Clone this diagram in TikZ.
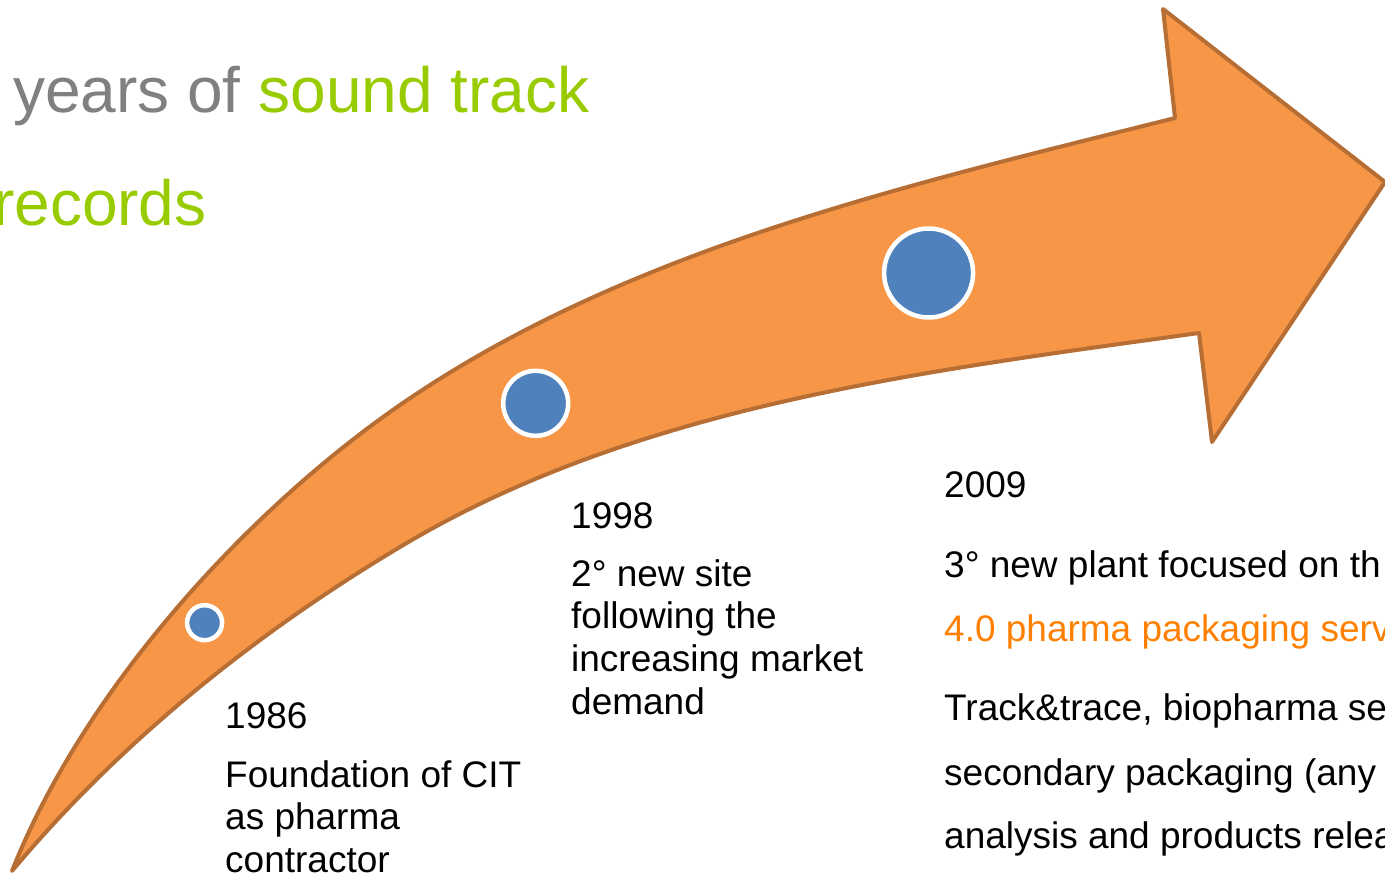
\documentclass[tikz,border=0pt]{standalone}
\usepackage{fontspec}
\setmainfont{Liberation Sans}
\definecolor{arrowfill}{RGB}{247,150,70}
\definecolor{arrowline}{RGB}{183,110,52}
\definecolor{dotblue}{RGB}{79,129,189}
\definecolor{titlegray}{RGB}{128,128,128}
\definecolor{titlegreen}{RGB}{153,204,0}
\definecolor{accentorange}{RGB}{255,128,0}
\tikzset{
  arrowshape/.style={fill=arrowfill, draw=arrowline, line width=4pt, line join=round},
  dot/.style={circle, fill=dotblue, draw=white, line width=4.5pt, inner sep=0pt},
  body/.style={anchor=base west, inner sep=0pt, font=\fontsize{37}{42}\selectfont},
  title/.style={anchor=base west, inner sep=0pt, font=\fontsize{64}{74}\selectfont},
}
\begin{document}
\begin{tikzpicture}[x=1pt,y=-1pt]
\useasboundingbox (0,0) rectangle (1385,875);
\clip (0,0) rectangle (1385,875);
% key points of the arrow
\coordinate (tail) at (12,871);
\coordinate (um) at (400,405);
\coordinate (lm) at (400,547);
\coordinate (hu) at (1175,118);
\coordinate (bu) at (1163,9);
\coordinate (tip) at (1385,182);
\coordinate (bl) at (1212,442);
\coordinate (hl) at (1199,333);
\draw[arrowshape] (tail) .. controls (85.6,685) and (251.9,507.2) .. (um)
  .. controls (626,249) and (908,185) .. (hu)
  -- (bu) -- (tip) -- (bl) -- (hl)
  .. controls (926,371) and (636.5,405) .. (lm)
  .. controls (256,633) and (120,742) .. (tail) -- cycle;
% milestones
\node[dot, minimum size=35pt] (d1) at (204.6,622.7) {};
\node[dot, minimum size=65pt] (d2) at (535.7,403.3) {};
\node[dot, minimum size=89pt] (d3) at (928.6,273) {};
% title
\node[title] (t1) at (13,112) {\textcolor{titlegray}{years of }\textcolor{titlegreen}{sound track}};
\node[title, text=titlegreen] (t2) at (-7,225) {records};
% 1986
\node[body] (a1) at (225,728) {1986};
\node[body] (a2) at (225,787) {Foundation of CIT};
\node[body] (a3) at (225,829) {as pharma};
\node[body] (a4) at (225,872) {contractor};
% 1998
\node[body] (b1) at (571,528) {1998};
\node[body] (b2) at (571,586) {2° new site};
\node[body] (b3) at (571,628) {following the};
\node[body] (b4) at (571,671) {increasing market};
\node[body] (b5) at (571,714) {demand};
% 2009
\node[body] (c1) at (944,497) {2009};
\node[body] (c2) at (944,577) {3° new plant focused on th};
\node[body, text=accentorange] (c3) at (944,641) {4.0 pharma packaging serv};
\node[body] (c4) at (944,720) {Track\&trace, biopharma se};
\node[body] (c5) at (944,785) {secondary packaging (any};
\node[body] (c6) at (944,848) {analysis and products relea};
\end{tikzpicture}
\end{document}
